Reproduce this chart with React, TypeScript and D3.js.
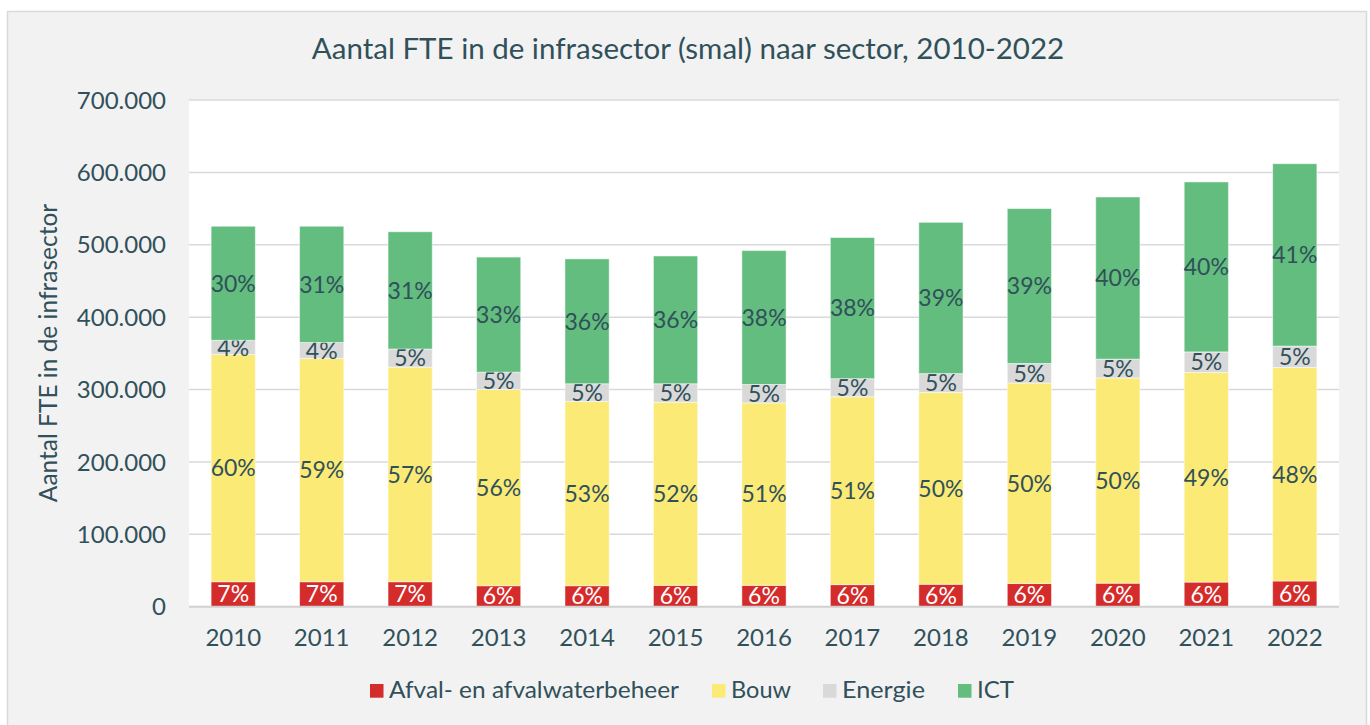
import React from "react";
import * as d3 from "d3";

const years = ["2010","2011","2012","2013","2014","2015","2016","2017","2018","2019","2020","2021","2022"];
const afval = [34.5, 34.5, 34.5, 29, 29, 29.5, 29.5, 30.5, 31, 32, 32.5, 34, 35.5];
const bouw = [314, 308.5, 296.5, 271, 254.5, 253, 252, 259.5, 265, 277, 283.5, 289.6, 295];
const energie = [19.5, 22, 25, 24, 24.5, 25.5, 25.5, 25, 26, 27, 26, 28.4, 29.5];
const ict = [157.6, 160.6, 162, 159, 172.5, 176.5, 185, 195, 209, 214, 224, 234.8, 252];
const yTicks = [0, 100000, 200000, 300000, 400000, 500000, 600000, 700000];
const seriesNames = ["Afval- en afvalwaterbeheer", "Bouw", "Energie", "ICT"];
const seriesColors = ["#d42b2b", "#fbea76", "#d9d9d9", "#62bd7e"];
const labelColors = ["#ffffff", "#30505a", "#30505a", "#30505a"];

const TEXT = "#30505a";
const FONT = "Lato, 'Open Sans', sans-serif";

export default function App() {
  const W = 1370, H = 725;
  const left = 189, right = 1339, top = 100, bottom = 606.7;
  const data = years.map((y, i) => ({
    year: y,
    s0: afval[i] * 1000,
    s1: bouw[i] * 1000,
    s2: energie[i] * 1000,
    s3: ict[i] * 1000,
  }));
  const keys = ["s0", "s1", "s2", "s3"];
  const stacked = d3.stack<any>().keys(keys)(data);
  const x = d3.scaleBand().domain(years).range([left, right]).paddingInner(0.5).paddingOuter(0.25);
  const y = d3.scaleLinear().domain([0, 700000]).range([bottom, top]);
  const fmt = (v: number) => v === 0 ? "0" : d3.format(",")(v).replace(/,/g, ".");

  const legendX = [370, 712, 823, 958];
  const legendLen = [290, 60, 83, 37];

  return (
    <svg width={W} height={H} style={{ position: "absolute", left: 0, top: 0 }} fontFamily={FONT}>
      <rect x={0} y={0} width={W} height={H} fill="#ffffff" />
      <rect x={7.5} y={11.5} width={1359} height={720} fill="#f2f2f2" stroke="#d9d9d9" strokeWidth={1.5} />
      <rect x={left} y={top} width={right - left} height={bottom - top} fill="#ffffff" />
      <text x={688} y={59} textAnchor="middle" fontSize={29.5} fill={TEXT}>
        Aantal FTE in de infrasector (smal) naar sector, 2010-2022
      </text>
      {yTicks.map((t) => (
        <g key={t}>
          {t > 0 && (
            <line x1={left} x2={right} y1={y(t)} y2={y(t)} stroke="#d9d9d9" strokeWidth={1.5} />
          )}
          <text x={166} y={y(t)} dy="0.36em" textAnchor="end" fontSize={24} fill={TEXT}>
            {fmt(t)}
          </text>
        </g>
      ))}
      <text
        transform={`translate(57, ${353}) rotate(-90)`}
        textAnchor="middle"
        fontSize={24.5}
        fill={TEXT}
      >
        Aantal FTE in de infrasector
      </text>
      {stacked.map((layer, si) => (
        <g key={si}>
          {layer.map((d: any, i: number) => {
            const y0 = y(d[0]);
            const y1 = y(d[1]);
            const total = afval[i] + bouw[i] + energie[i] + ict[i];
            const val = [afval, bouw, energie, ict][si][i];
            const pct = Math.round((val / total) * 100);
            return (
              <g key={i}>
                <rect
                  x={x(years[i])!}
                  y={y1}
                  width={x.bandwidth()}
                  height={y0 - y1}
                  fill={seriesColors[si]}
                  stroke="#ffffff"
                  strokeOpacity={0.5}
                  strokeWidth={1}
                />
                <text
                  x={x(years[i])! + x.bandwidth() / 2}
                  y={(y0 + y1) / 2}
                  dy="0.36em"
                  textAnchor="middle"
                  fontSize={23}
                  fill={labelColors[si]}
                >
                  {pct}%
                </text>
              </g>
            );
          })}
        </g>
      ))}
      <line x1={left} x2={right} y1={bottom} y2={bottom} stroke="#d0d0d0" strokeWidth={2} />
      {years.map((yr) => (
        <text key={yr} x={x(yr)! + x.bandwidth() / 2} y={637} dy="0.36em" textAnchor="middle" fontSize={24} fill={TEXT}>
          {yr}
        </text>
      ))}
      {seriesNames.map((n, i) => (
        <g key={n}>
          <rect x={legendX[i]} y={684} width={13.5} height={13.7} fill={seriesColors[i]} />
          <text
            x={legendX[i] + 19}
            y={697.7}
            fontSize={24}
            fill={TEXT}
            textLength={legendLen[i]}
            lengthAdjust="spacingAndGlyphs"
          >
            {n}
          </text>
        </g>
      ))}
    </svg>
  );
}
